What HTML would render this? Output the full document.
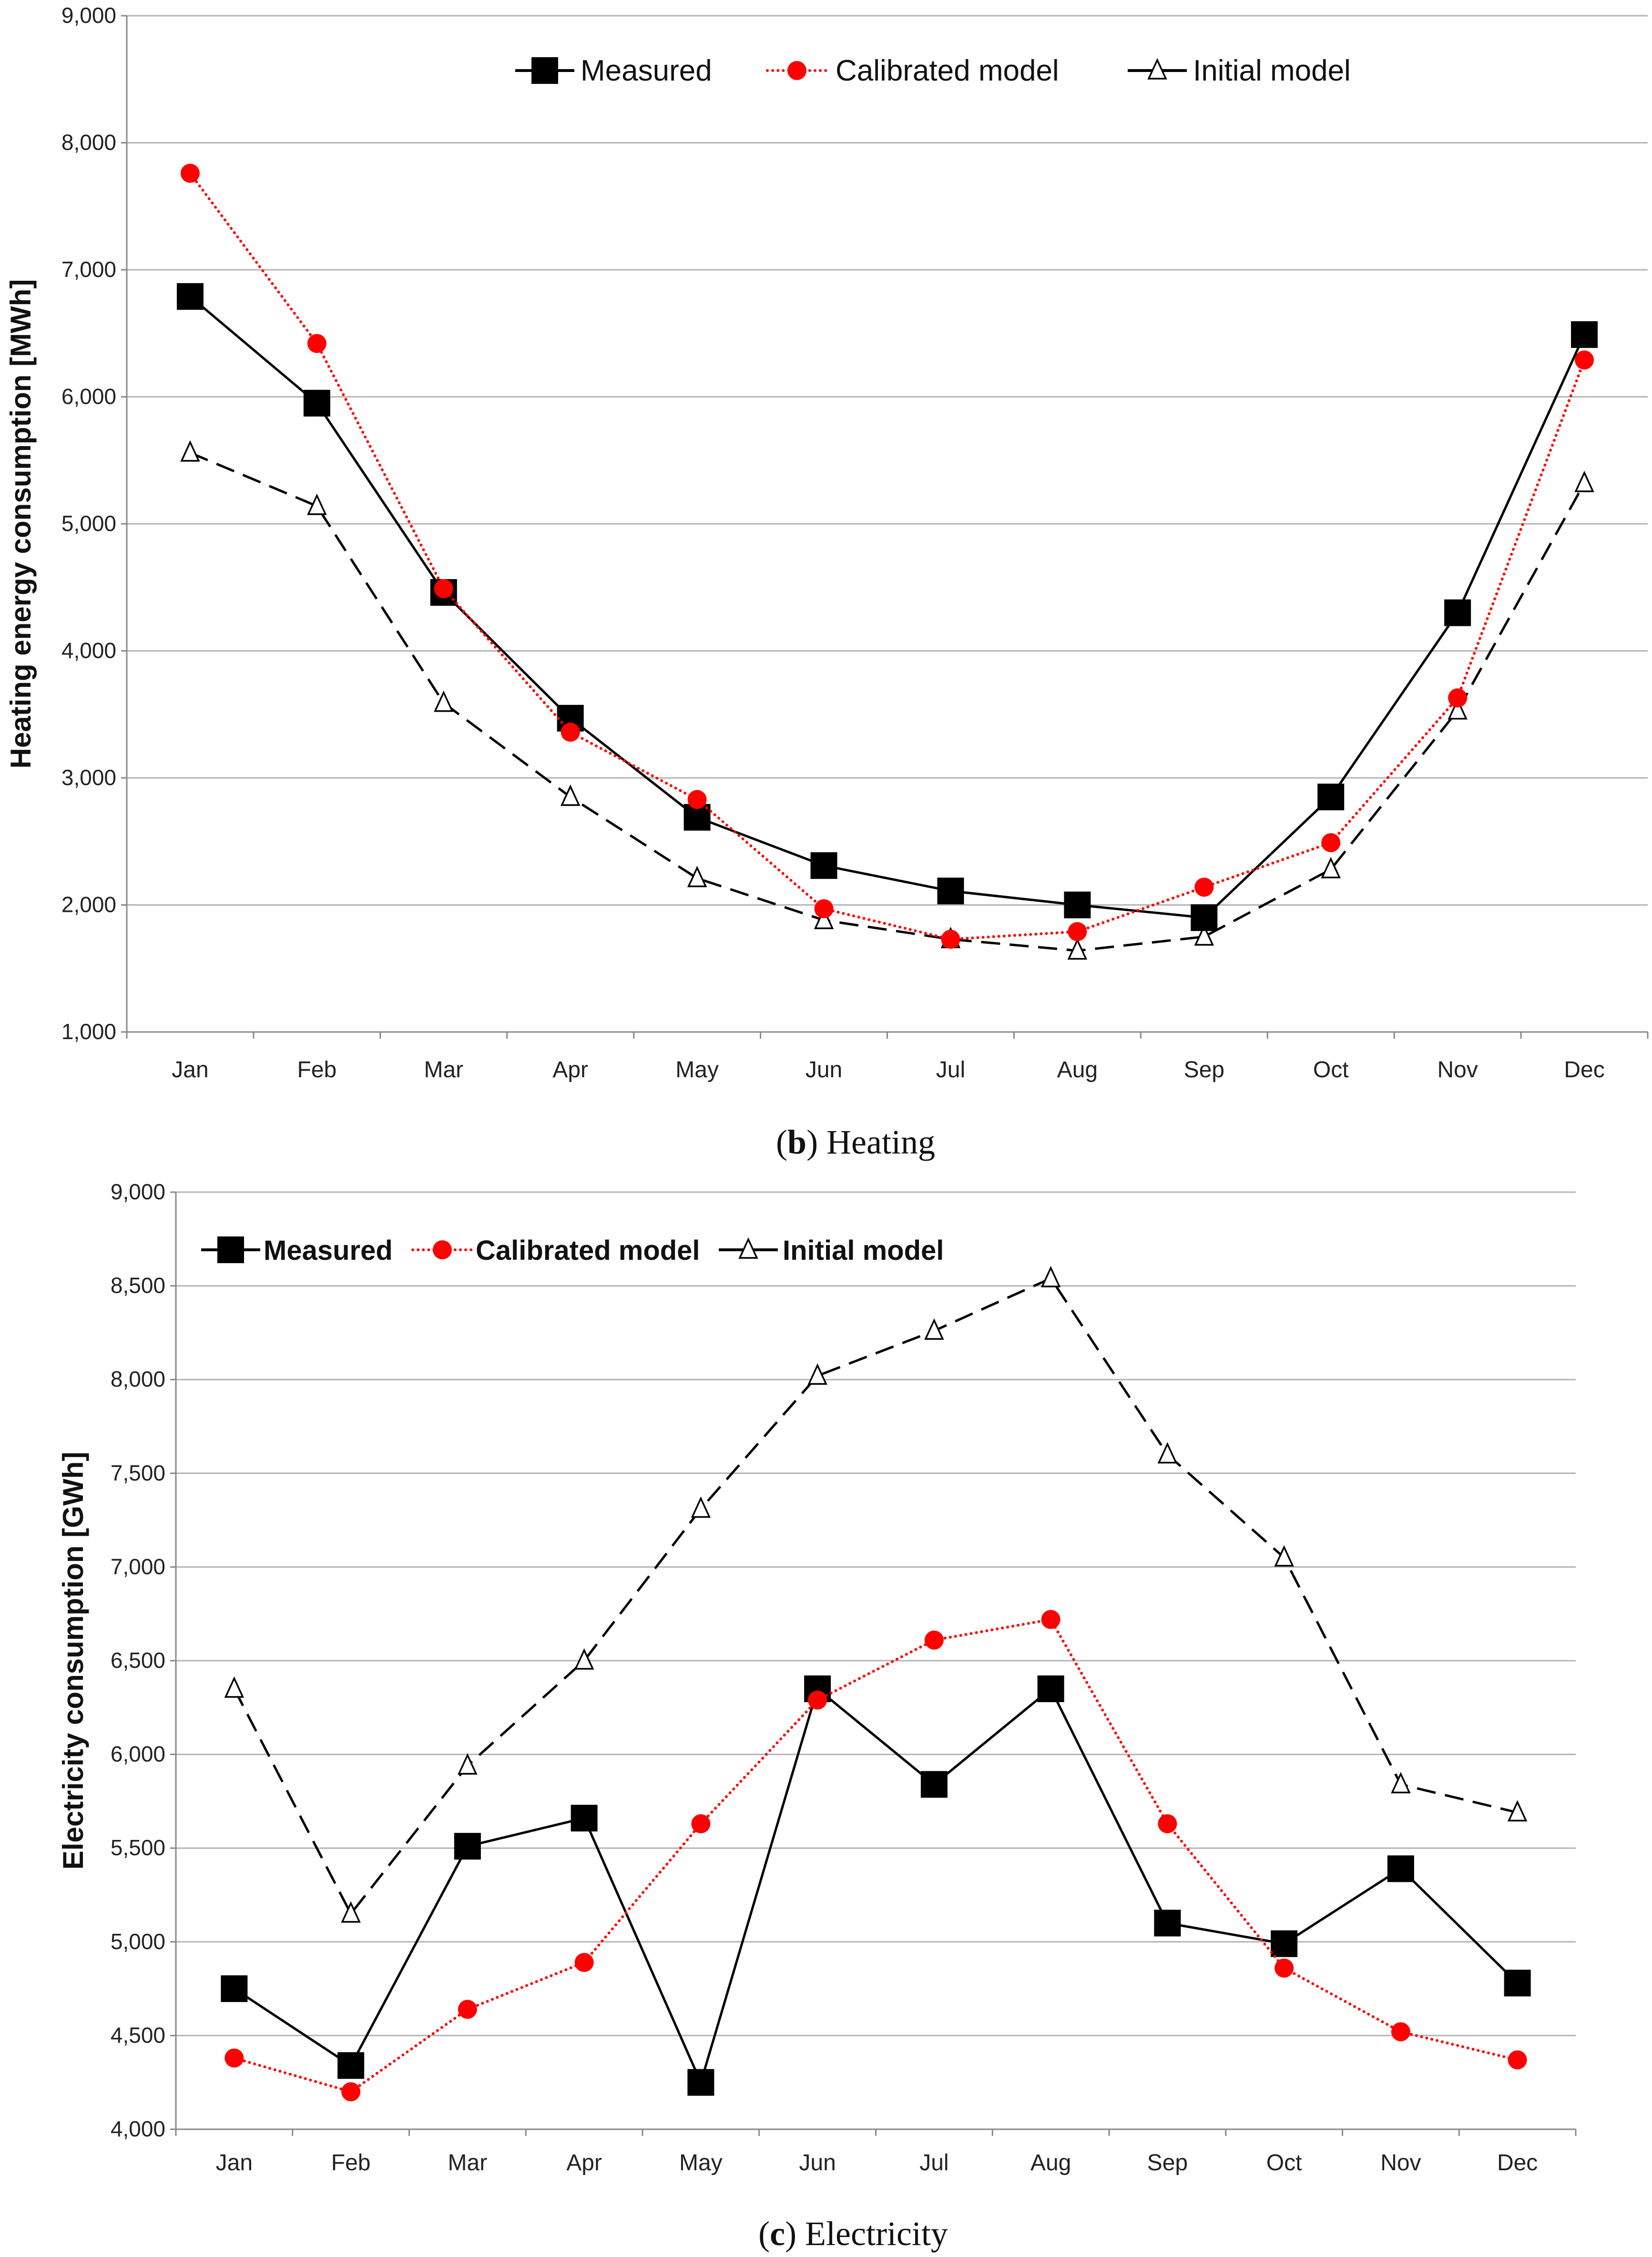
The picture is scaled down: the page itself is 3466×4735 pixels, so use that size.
<!DOCTYPE html>
<html><head><meta charset="utf-8"><style>
html,body{margin:0;padding:0;background:#fff;}
svg{display:block;}
text{font-family:"Liberation Sans Narrow","Liberation Sans",sans-serif;}
</style></head><body>
<svg id="s" width="3466" height="4735" viewBox="0 0 3466 4735" xmlns="http://www.w3.org/2000/svg"></svg>
<script>
const months=["Jan","Feb","Mar","Apr","May","Jun","Jul","Aug","Sep","Oct","Nov","Dec"];
const heatTicks=[1000,2000,3000,4000,5000,6000,7000,8000,9000];
const heatMeasured=[6790,5950,4460,3470,2690,2310,2110,2000,1900,2850,4300,6490];
const heatCalibrated=[7760,6420,4490,3360,2830,1970,1730,1790,2140,2490,3630,6290];
const heatInitial=[5560,5140,3590,2850,2210,1880,1730,1640,1750,2280,3530,5320];
const elecTicks=[4000,4500,5000,5500,6000,6500,7000,7500,8000,8500,9000];
const elecMeasured=[4750,4340,5510,5660,4250,6350,5840,6350,5100,4990,5390,4780];
const elecCalibrated=[4380,4200,4640,4890,5630,6290,6610,6720,5630,4860,4520,4370];
const elecInitial=[6350,5150,5940,6500,7310,8020,8260,8540,7600,7050,5840,5690];

const NS="http://www.w3.org/2000/svg";
const svg=document.getElementById('s');
function mk(tag,attrs,parent){const e=document.createElementNS(NS,tag);for(const k in attrs)e.setAttribute(k,attrs[k]);(parent||svg).appendChild(e);return e;}
function fmt(v){return v.toLocaleString('en-US');}

function chart(cfg){
  const g=mk('g',{});
  
  
  const L=cfg.left,R=cfg.right,T=cfg.top,B=cfg.bottom;
  const ymin=cfg.ticks[0],ymax=cfg.ticks[cfg.ticks.length-1];
  const y=v=>B-(v-ymin)/(ymax-ymin)*(B-T);
  const cw=(R-L)/months.length;
  const x=i=>L+cw*(i+0.5);
  cfg.ticks.forEach(t=>{
    if(t!==ymin){const gl=mk('line',{x1:L,x2:R,y1:y(t),y2:y(t),stroke:'#b4b4b4','stroke-width':3},g);
    
    }
    mk('line',{x1:L-12,x2:L,y1:y(t),y2:y(t),stroke:'#888','stroke-width':3},g);
    const tl=mk('text',{x:L-22,y:y(t)+15,'text-anchor':'end','font-size':46,fill:'#222'},g);
    tl.textContent=fmt(t);
    
    
  });
  const ax=mk('line',{x1:L,x2:L,y1:T,y2:B,stroke:'#888','stroke-width':3},g);
  
  
  const xa=mk('line',{x1:L,x2:R,y1:B,y2:B,stroke:'#888','stroke-width':3},g);
  
  
  for(let i=0;i<=months.length;i++){mk('line',{x1:L+cw*i,x2:L+cw*i,y1:B,y2:B+14,stroke:'#888','stroke-width':3},g);}
  months.forEach((m,i)=>{
    const t=mk('text',{x:x(i),y:cfg.monthY,'text-anchor':'middle','font-size':48,fill:'#222'},g);
    t.textContent=m;
    
    
  });
  const yt=mk('text',{x:0,y:0,transform:`translate(${cfg.ytX},${(T+B)/2}) rotate(-90)`,'text-anchor':'middle','font-size':60,'font-weight':'bold',fill:'#111',style:'font-family:"Liberation Sans",sans-serif'},g);
  yt.textContent=cfg.ytitle;
  
  
  function series(vals,kind){
    const sg=mk('g',{},g);
    
    
    const pts=vals.map((v,i)=>x(i)+','+y(v)).join(' ');
    const st={measured:{stroke:'#000',dash:''},calibrated:{stroke:'#f00',dash:'0.1 11'},initial:{stroke:'#000',dash:'40 20'}}[kind];
    const pl=mk('polyline',{points:pts,fill:'none',stroke:st.stroke,'stroke-width':kind==='calibrated'?6:5,'stroke-dasharray':st.dash,'stroke-linecap':kind==='calibrated'?'round':'butt'},sg);
    
    
    vals.forEach((v,i)=>{
      const m=marker(kind,x(i),y(v),sg);
      
      
    });
  }
  series(cfg.initial,'initial');
  series(cfg.measured,'measured');
  series(cfg.calibrated,'calibrated');
  const lg=mk('g',{},g);
  
  
  cfg.legend.forEach(it=>{
    const eg=mk('g',{},lg);
    
    
    const st={measured:['#000',''],calibrated:['#f00','0.1 11'],initial:['#000','']}[it.kind];
    mk('line',{x1:it.mx-62,x2:it.mx+62,y1:cfg.legY,y2:cfg.legY,stroke:st[0],'stroke-width':6,'stroke-dasharray':st[1],'stroke-linecap':it.kind==='calibrated'?'round':'butt'},eg);
    marker(it.kind,it.mx,cfg.legY,eg);
    const t=mk('text',{x:it.tx,y:cfg.legY+21,'font-size':cfg.legSize,'font-weight':cfg.legBold?'bold':'normal',fill:'#111'},eg);
    t.textContent=it.label;
  });
  const cap=mk('text',{x:cfg.capX,y:cfg.capY,'text-anchor':'middle','font-size':72,fill:'#111',style:'font-family:"Liberation Serif",serif'},g);
  cap.innerHTML='(<tspan font-weight="bold">'+cfg.capLetter+'</tspan>) '+cfg.capText;
  
  
}
function marker(kind,cx,cy,p){
  if(kind==='measured')return mk('rect',{x:cx-28,y:cy-28,width:56,height:56,fill:'#000'},p);
  if(kind==='calibrated')return mk('circle',{cx:cx,cy:cy,r:20,fill:'#f00'},p);
  return mk('polygon',{points:`${cx},${cy-22} ${cx-18},${cy+17} ${cx+18},${cy+17}`,fill:'#fff',stroke:'#000','stroke-width':3.5},p);
}
chart({name:'heating-chart',left:266,right:3457,top:33,bottom:2165,ticks:heatTicks,monthY:2260,ytX:64,ytitle:'Heating energy consumption [MWh]',
  measured:heatMeasured,calibrated:heatCalibrated,initial:heatInitial,legY:148,legSize:62,legBold:false,
  legend:[{kind:'measured',mx:1143,tx:1218,label:'Measured'},{kind:'calibrated',mx:1672,tx:1753,label:'Calibrated model'},{kind:'initial',mx:2428,tx:2503,label:'Initial model'}],
  capX:1795,capY:2420,capLetter:'b',capText:'Heating'});
chart({name:'electricity-chart',left:369,right:3306,top:2501,bottom:4467,ticks:elecTicks,monthY:4553,ytX:174,ytitle:'Electricity consumption [GWh]',
  measured:elecMeasured,calibrated:elecCalibrated,initial:elecInitial,legY:2622,legSize:58,legBold:true,
  legend:[{kind:'measured',mx:484,tx:553,label:'Measured'},{kind:'calibrated',mx:928,tx:998,label:'Calibrated model'},{kind:'initial',mx:1570,tx:1642,label:'Initial model'}],
  capX:1790,capY:4710,capLetter:'c',capText:'Electricity'});
</script>
</body></html>
